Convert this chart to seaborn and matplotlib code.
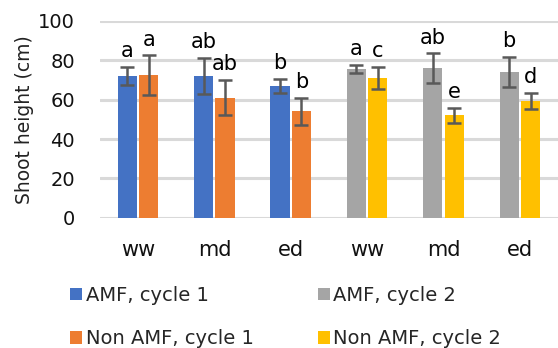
import pandas as pd
import matplotlib.pyplot as plt
import seaborn as sns
from matplotlib.patches import Patch

sns.set_theme(style="white")
plt.rcParams['font.family'] = ['DejaVu Sans']

# Dados
tratamentos = ['ww', 'md', 'ed', 'ww', 'md', 'ed']
amf_media = [72, 72, 67, 75.5, 76, 74]
amf_erro = [4.5, 9, 3.5, 2, 7.5, 7.5]
non_media = [72.5, 61, 54, 71, 52, 59.5]
non_erro = [10, 9, 7, 5.5, 4, 4]
amf_letras = ['a', 'ab', 'b', 'a', 'ab', 'b']
non_letras = ['a', 'ab', 'b', 'c', 'e', 'd']
series = ['AMF, cycle 1', 'Non AMF, cycle 1', 'AMF, cycle 2', 'Non AMF, cycle 2']
cores = ['#4472C4', '#ED7D31', '#A5A5A5', '#FFC000']

slots = [str(i) for i in range(len(tratamentos))]
df = pd.DataFrame({
    'slot': slots * 2,
    'altura': amf_media + non_media,
    'erro': amf_erro + non_erro,
    'letra': amf_letras + non_letras,
    'grupo': ['AMF'] * 6 + ['Non AMF'] * 6,
})

fig = plt.figure(figsize=(5.58, 3.48), dpi=100)
ax = fig.add_axes([0.179, 0.374, 0.821, 0.566])

sns.barplot(data=df, x='slot', y='altura', hue='grupo', order=slots,
            hue_order=['AMF', 'Non AMF'], width=0.56, gap=0.1,
            errorbar=None, legend=False, ax=ax)

# Cores por ciclo
cores_barras = [cores[0]] * 3 + [cores[2]] * 3 + [cores[1]] * 3 + [cores[3]] * 3
for barra, cor in zip(ax.patches, cores_barras):
    barra.set_facecolor(cor)
    barra.set_edgecolor('none')

# Barras de erro e letras
for barra, (_, linha) in zip(ax.patches, df.iterrows()):
    xc = barra.get_x() + barra.get_width() / 2
    ax.errorbar(xc, linha['altura'], yerr=linha['erro'], fmt='none',
                ecolor='#595959', elinewidth=1.8, capsize=5, capthick=1.8)
    ax.text(xc, linha['altura'] + linha['erro'] + 5, linha['letra'],
            ha='center', va='baseline', fontsize=15, color='black')

ax.set_ylim(0, 100)
ax.set_xlim(-0.5, 5.5)
ax.set_yticks(range(0, 101, 20))
ax.set_xticks(range(6))
ax.set_xticklabels(tratamentos)
ax.yaxis.grid(True, color='#d9d9d9', linewidth=2.2)
ax.set_axisbelow(True)
for s in ax.spines.values():
    s.set_visible(False)
ax.tick_params(axis='y', length=0, pad=18, labelsize=14, labelcolor='#111111')
ax.tick_params(axis='x', length=0, pad=16, labelsize=15, labelcolor='#111111')
ax.set_xlabel('')
ax.set_ylabel('Shoot height (cm)', fontsize=13.5, color='#222222', labelpad=3)

handles = [Patch(facecolor=c, edgecolor='none') for c in cores]
fig.legend(handles, series, ncol=2, loc='upper left',
           bbox_to_anchor=(0.112, 0.2), frameon=False, fontsize=14,
           handlelength=0.6, handleheight=0.6, handletextpad=0.2,
           columnspacing=3.3, labelspacing=1.25, borderaxespad=0)

plt.savefig('out.png', dpi=100)
